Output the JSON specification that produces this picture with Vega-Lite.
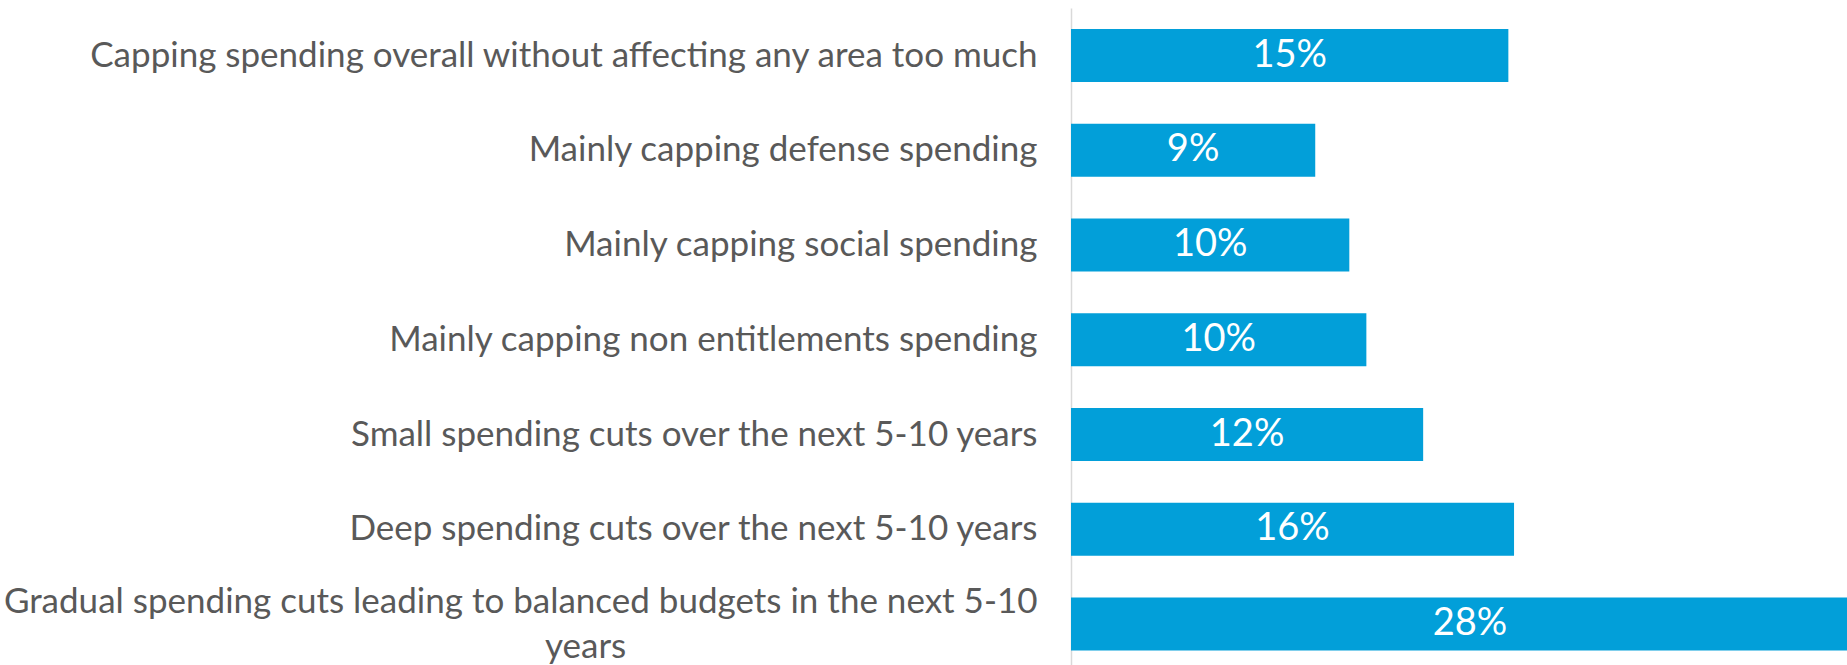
{
  "$schema": "https://vega.github.io/schema/vega-lite/v6.json",
  "autosize": {"type": "none"},
  "padding": {"left": 1071, "top": 8, "right": 0, "bottom": 0},
  "width": 776,
  "height": 657,
  "background": "white",
  "config": {"view": {"stroke": null}},
  "data": {
    "values": [
      {"option": "Capping spending overall without affecting any area too much", "share": 0.154},
      {"option": "Mainly capping defense spending", "share": 0.086},
      {"option": "Mainly capping social spending", "share": 0.098},
      {"option": "Mainly capping non entitlements spending", "share": 0.104},
      {"option": "Small spending cuts over the next 5-10 years", "share": 0.124},
      {"option": "Deep spending cuts over the next 5-10 years", "share": 0.156},
      {"option": "Gradual spending cuts leading to balanced budgets in the next 5-10 years", "share": 0.281}
    ]
  },
  "encoding": {
    "y": {
      "field": "option",
      "type": "nominal",
      "sort": null,
      "scale": {"paddingInner": 0.44, "paddingOuter": 0.187, "align": 0.593},
      "axis": {
        "title": null,
        "ticks": false,
        "domain": true,
        "domainColor": "#d9d9d9",
        "domainWidth": 1.5,
        "labelFont": "Lato",
        "labelFontSize": 35,
        "labelColor": "#595959",
        "labelPadding": 34,
        "labelLimit": 1100,
        "labelLineHeight": 45,
        "labelOffset": {"condition": {"test": "indexof(datum.value, 'Gradual') == 0", "value": -22}, "value": 0},
        "labelExpr": "indexof(datum.label, 'Gradual') == 0 ? ['Gradual spending cuts leading to balanced budgets in the next 5-10', 'years\u2003\u2003\u2003\u2003\u2003\u2003\u2003\u2003\u2003\u2003\u2003\u2003\u2003\u2003\u2003\u2002\u200b'] : datum.label"
      }
    }
  },
  "layer": [
    {
      "mark": {"type": "bar", "color": "#029fd9", "clip": true},
      "encoding": {
        "x": {
          "field": "share",
          "type": "quantitative",
          "scale": {"domain": [0, 0.27324], "nice": false, "zero": true},
          "axis": null
        }
      }
    },
    {
      "mark": {"type": "text", "color": "white", "font": "Lato", "fontSize": 38, "align": "center", "baseline": "middle"},
      "encoding": {
        "x": {
          "field": "share",
          "type": "quantitative",
          "scale": {"domain": [0, 0.27324], "range": [0, 388], "nice": false, "zero": true},
          "axis": null
        },
        "text": {"field": "share", "type": "quantitative", "format": ".0%"}
      }
    }
  ],
  "resolve": {"scale": {"x": "independent"}}
}
